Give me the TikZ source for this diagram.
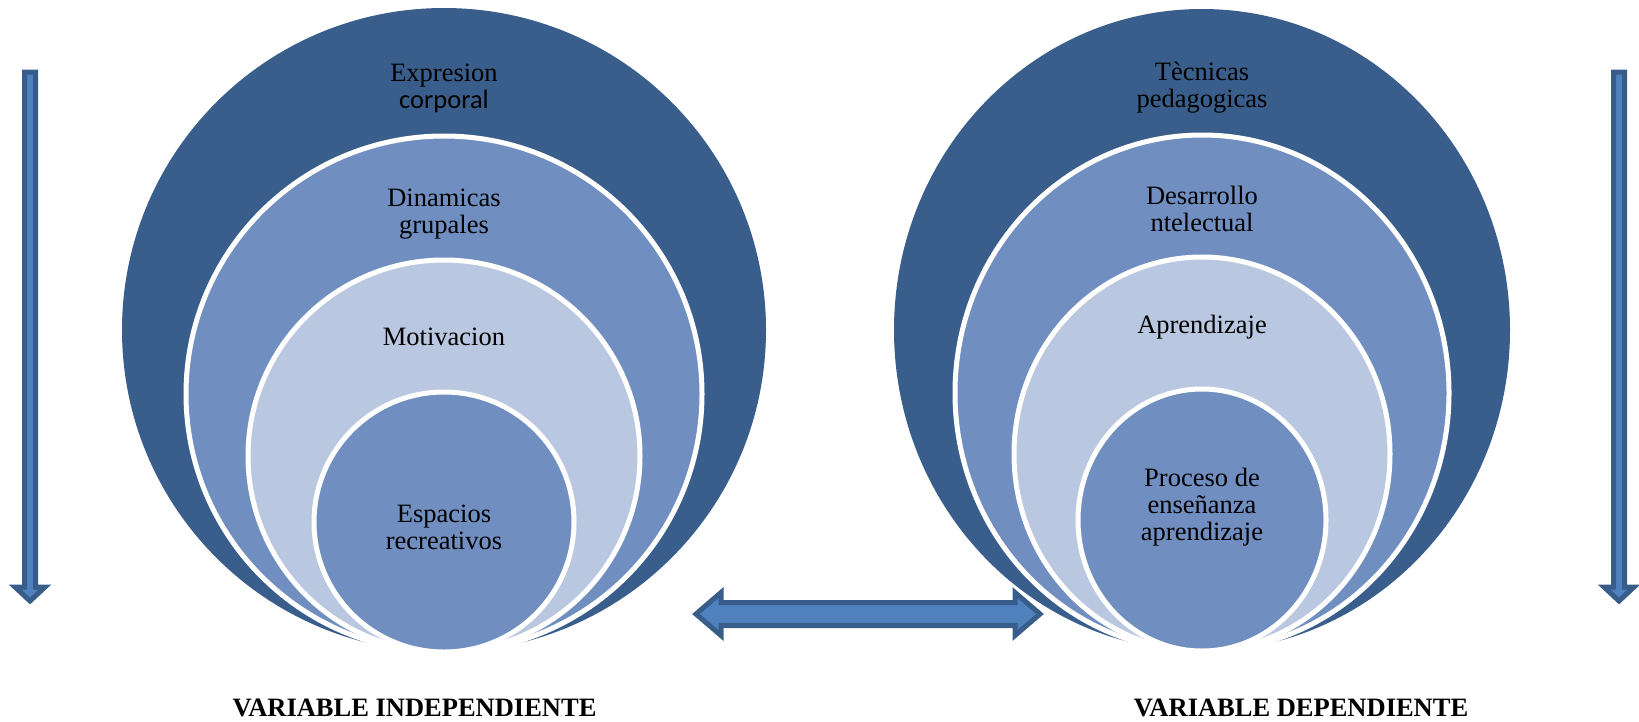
\documentclass[tikz,border=0pt]{standalone}
\usepackage{fontspec}
\usetikzlibrary{shapes.geometric}
\setmainfont{Liberation Serif}
\newfontfamily\calibri{Carlito}
\definecolor{dk}{RGB}{57,94,139}
\definecolor{md}{RGB}{112,143,192}
\definecolor{lt}{RGB}{186,199,224}
\definecolor{ar}{RGB}{79,129,189}
\definecolor{ardk}{RGB}{56,93,138}
\begin{document}
\begin{tikzpicture}[x=1pt,y=-1pt,
  outerring/.style={ellipse, inner sep=0pt, fill=dk, draw=none},
  ring/.style={ellipse, inner sep=0pt, draw=white, line width=5pt},
  lbl/.style={align=center, font=\fontsize{26.5}{27}\selectfont, text=black, inner sep=0pt},
  vlbl/.style={font=\fontsize{26.5}{28}\selectfont\bfseries, inner sep=0pt, anchor=base},
  arw/.style={fill=ar, draw=ardk, line width=5pt, line join=miter}]
\useasboundingbox (0,0) rectangle (1639,721);
% left target
\node[outerring, minimum width=644pt, minimum height=644pt] (L1) at (444,330) {};
\node[ring, fill=md, minimum width=516pt, minimum height=516pt] (L2) at (444,394) {};
\node[ring, fill=lt, minimum width=392pt, minimum height=392pt] (L3) at (444,456) {};
\node[ring, fill=md, minimum width=260pt, minimum height=260pt] (L4) at (444,522) {};
% right target (slightly taller than wide)
\node[outerring, minimum width=616pt, minimum height=642pt] (R1) at (1202,330) {};
\node[ring, fill=md, minimum width=494pt, minimum height=516pt] (R2) at (1202,393) {};
\node[ring, fill=lt, minimum width=376pt, minimum height=394pt] (R3) at (1202,454) {};
\node[ring, fill=md, minimum width=248pt, minimum height=262pt] (R4) at (1202,520) {};
% labels left
\node[lbl] (tL1) at (444,88) {Expresion\\{\calibri corporal}};
\node[lbl] (tL2) at (444,214) {Dinamicas\\grupales};
\node[lbl] (tL3) at (444,337) {Motivacion};
\node[lbl] (tL4) at (444,527) {Espacios\\recreativos};
% labels right
\node[lbl] (tR1) at (1202,88) {Tècnicas\\pedagogicas};
\node[lbl] (tR2) at (1202,209) {Desarrollo\\ntelectual};
\node[lbl] (tR3) at (1202,327) {Aprendizaje};
\node[lbl] (tR4) at (1202,507) {Proceso de\\enseñanza\\aprendizaje};
% bottom labels
\node[vlbl] (vi) at (414.5,716) {VARIABLE INDEPENDIENTE};
\node[vlbl] (vd) at (1301,716) {VARIABLE DEPENDIENTE};
% left down arrow
\coordinate (la) at (30,72);
\draw[arw] ([xshift=-5.5pt]la) -- ++(0,515) -- ++(-9.5,0) -- (30,601) -- (45,587) -- ++(-9.5,0) -- ([xshift=5.5pt]la) -- cycle;
% right down arrow
\coordinate (ra) at (1619,72);
\draw[arw] ([xshift=-5.5pt]ra) -- ++(0,515) -- ++(-9.5,0) -- (1619,601) -- (1634,587) -- ++(-9.5,0) -- ([xshift=5.5pt]ra) -- cycle;
% double arrow
\coordinate (dl) at (696,614);
\coordinate (dr) at (1040,614);
\draw[arw] (dl) -- (721,592.5) -- (721,602.5) -- (1015,602.5) -- (1015,592.5) -- (dr) -- (1015,635.5) -- (1015,625.5) -- (721,625.5) -- (721,635.5) -- cycle;
\end{tikzpicture}
\end{document}
